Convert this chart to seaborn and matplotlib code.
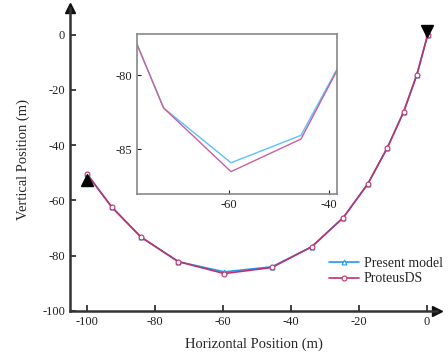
import numpy as np
import pandas as pd
import matplotlib
matplotlib.use("Agg")
import matplotlib.pyplot as plt
import seaborn as sns

# mooring line profile
x_pos = [-100.0, -92.7, -84.1, -73.1, -59.6, -45.6, -33.9, -24.6, -17.4, -11.7, -6.9, -3.0, 0.2]
y_present = [-50.4, -62.4, -73.3, -82.2, -85.9, -84.05, -76.8, -66.2, -54.0, -41.0, -28.0, -14.5, 0.0]
y_proteus = [-50.4, -62.4, -73.3, -82.2, -86.5, -84.3, -76.8, -66.2, -54.0, -41.0, -28.0, -14.5, 0.0]

# anchor and fairlead
anchor = (-100.0, -52.5)
fairlead = (0.0, 1.2)

x_ticks = [-100, -80, -60, -40, -20, 0]
y_ticks = [-100, -80, -60, -40, -20, 0]
inset_xticks = [-60, -40]
inset_yticks = [-80, -85]

blue = "#1e9bf0"
pink = "#c0306e"

df = pd.DataFrame({
    "x": x_pos * 2,
    "y": y_present + y_proteus,
    "model": ["Present model"] * len(x_pos) + ["ProteusDS"] * len(x_pos),
})

sns.set_style("ticks")
plt.rcParams["font.family"] = ["Liberation Serif", "DejaVu Serif"]
plt.rcParams["axes.unicode_minus"] = False

fig = plt.figure(figsize=(4.48, 3.61), dpi=100)
ax = fig.add_axes([0.156, 0.139, 0.82, 0.839])

sns.lineplot(data=df[df.model == "Present model"], x="x", y="y", ax=ax, sort=False,
             color=blue, lw=1.2, marker="^", markersize=3.5, markerfacecolor="white",
             markeredgecolor=blue, markeredgewidth=0.8, label="Present model")
sns.lineplot(data=df[df.model == "ProteusDS"], x="x", y="y", ax=ax, sort=False,
             color=pink, lw=1.2, marker="o", markersize=3.5, markerfacecolor="white",
             markeredgecolor=pink, markeredgewidth=0.8, label="ProteusDS")

ax.plot(anchor[0], anchor[1], marker="^", color="black", ms=8, ls="none", zorder=5)
ax.plot(fairlead[0], fairlead[1], marker="v", color="black", ms=8, ls="none",
        zorder=5, clip_on=False)

ax.set_xlim(-105, 3)
ax.set_ylim(-100, 9.7)
ax.set_xticks(x_ticks)
ax.set_yticks(y_ticks)
ax.tick_params(direction="in", length=4, width=1.2, labelsize=9, colors="#222222")
for s in ["top", "right"]:
    ax.spines[s].set_visible(False)
for s in ["left", "bottom"]:
    ax.spines[s].set_linewidth(1.8)
    ax.spines[s].set_color("#333333")
# arrowheads on the axes
ax.plot(1, 0, ">", color="#111111", ms=7, transform=ax.transAxes, clip_on=False)
ax.plot(0, 1, "^", color="#111111", ms=7, transform=ax.transAxes, clip_on=False)

ax.set_xlabel("Horizontal Position (m)", fontsize=10.5, labelpad=7)
ax.set_ylabel("Vertical Position (m)", fontsize=10.5, labelpad=9)

leg = ax.legend(loc="upper left", bbox_to_anchor=(0.69, 0.195), frameon=False,
                fontsize=10, handlelength=2.2, handletextpad=0.3, labelspacing=0.15,
                borderaxespad=0)

# zoomed inset around the sag point
axi = fig.add_axes([0.306, 0.463, 0.446, 0.443])
sns.lineplot(data=df[df.model == "Present model"], x="x", y="y", ax=axi, sort=False,
             color="#5cc0ff", lw=1.0)
sns.lineplot(data=df[df.model == "ProteusDS"], x="x", y="y", ax=axi, sort=False,
             color="#c8609a", lw=1.0)
axi.set_xlim(-78.4, -38.4)
axi.set_ylim(-88, -77.2)
axi.set_xticks(inset_xticks)
axi.set_yticks(inset_yticks)
axi.set_xlabel("")
axi.set_ylabel("")
axi.tick_params(direction="in", length=3, width=0.8, labelsize=9, colors="#222222")
for s in axi.spines.values():
    s.set_color("#888888")
    s.set_linewidth(1.2)

fig.savefig("out.png", dpi=100)
